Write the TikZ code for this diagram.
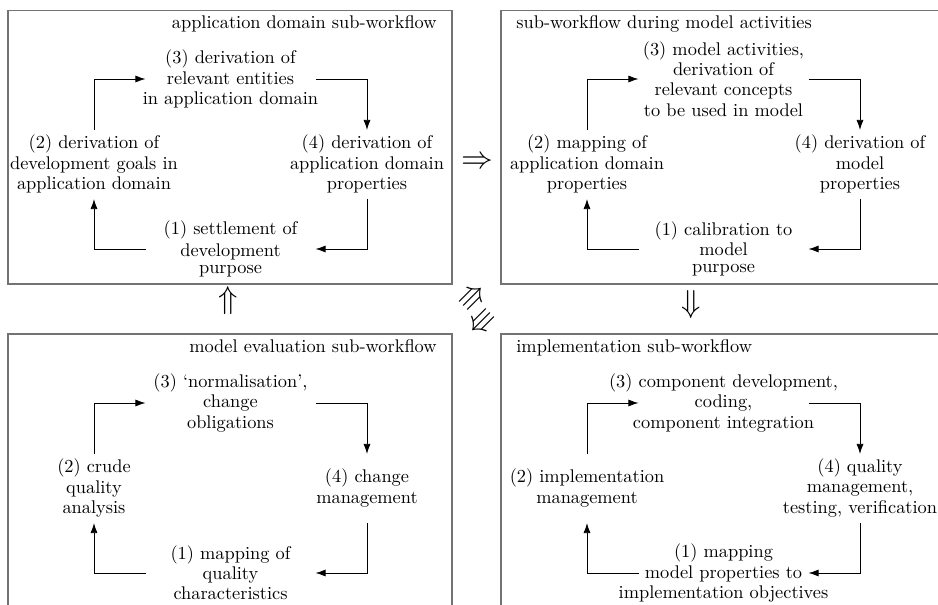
\documentclass[tikz,border=0pt]{standalone}
\usepackage{amssymb}
\usetikzlibrary{arrows.meta,calc}

\tikzset{
  frame/.style={draw=black!55, line width=0.9pt},
  title/.style={inner sep=0pt, font=\fontsize{10}{11}\selectfont},
  stepnode/.style={inner sep=0pt, align=center, font=\fontsize{10}{11}\selectfont},
  flow/.style={line width=0.45pt, -{Latex[length=5.5pt,width=3.8pt]}},
  bigarrow/.style={inner sep=0pt, font=\fontsize{16}{16}\selectfont},
}

% One sub-workflow cycle: #1 name prefix, #2 centre, #3--#6 steps (1)--(4)
\newcommand\workcycle[6]{%
  \begin{scope}[shift={#2}]
    \node[stepnode] (#1-1) at (0,85)      {#3};
    \node[stepnode] (#1-2) at (-136.5,0)  {#4};
    \node[stepnode] (#1-3) at (0,-85)     {#5};
    \node[stepnode] (#1-4) at (136.5,0)   {#6};
    \draw[flow] ($(#1-2)+(0,-34)$) |- ($(#1-3)+(-85,0)$);
    \draw[flow] ($(#1-3)+(85,0)$)  -| ($(#1-4)+(0,-34)$);
    \draw[flow] ($(#1-4)+(0,35)$)  |- ($(#1-1)+(85,0)$);
    \draw[flow] ($(#1-1)+(-85,0)$) -| ($(#1-2)+(0,35)$);
  \end{scope}
}

\begin{document}
\begin{tikzpicture}[x=0.545pt, y=-0.545pt]
  \clip (0,0) rectangle (938,605);

  % frames of the four sub-workflows
  \draw[frame] (8,10.5)  rectangle (452,284);
  \draw[frame] (501,10.5) rectangle (960,284);
  \draw[frame] (8,334)   rectangle (452,640);
  \draw[frame] (501,334) rectangle (960,640);

  % titles
  \node[title, anchor=base east] (t-app)  at (437,29)  {application domain sub-workflow};
  \node[title, anchor=base west] (t-mod)  at (516,29)  {sub-workflow during model activities};
  \node[title, anchor=base east] (t-eval) at (437,353) {model evaluation sub-workflow};
  \node[title, anchor=base west] (t-impl) at (516,353) {implementation sub-workflow};

  % application domain cycle
  \workcycle{app}{(230.5,164)}
    {(1) settlement of\\[1pt] development\\[-2pt] purpose}
    {(2) derivation of\\ development goals in\\ application domain}
    {(3) derivation of\\ relevant entities\\ in application domain}
    {(4) derivation of\\ application domain\\ properties}

  % model activities cycle
  \workcycle{mod}{(723.5,164)}
    {(1) calibration to\\ model\\[-2pt] purpose}
    {(2) mapping of\\ application domain\\ properties}
    {(3) model activities,\\ derivation of\\ relevant concepts\\ to be used in model}
    {(4) derivation of\\ model\\ properties}

  % model evaluation cycle
  \workcycle{eval}{(230.5,488)}
    {(1) mapping of\\ quality\\ characteristics}
    {(2) crude\\ quality\\ analysis}
    {(3) ‘normalisation’,\\ change\\ obligations}
    {(4) change\\ management}

  % implementation cycle
  \workcycle{impl}{(723.5,488)}
    {(1) mapping\\ model properties to\\ implementation objectives}
    {(2) implementation\\ management}
    {(3) component development,\\ coding,\\ component integration}
    {(4) quality\\ management,\\ testing, verification}

  % transitions between the sub-workflows
  \node[bigarrow] (a-right) at (477,163) {$\Rightarrow$};
  \node[bigarrow] (a-down)  at (691,305) {$\Downarrow$};
  \node[bigarrow] (a-up)    at (228,301) {$\Uparrow$};
  \node[bigarrow, rotate=45]  (a-ne) at (473,297) {$\Rrightarrow$};
  \node[bigarrow, rotate=225] (a-sw) at (481,322) {$\Rrightarrow$};
\end{tikzpicture}
\end{document}
